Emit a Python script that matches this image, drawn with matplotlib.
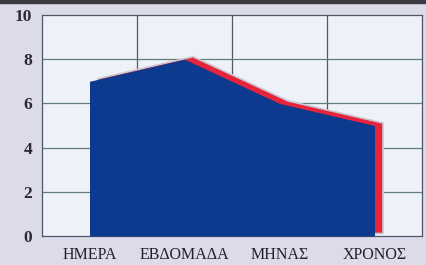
import matplotlib
matplotlib.use('Agg')
import matplotlib.pyplot as plt
import matplotlib.transforms as mtransforms

categories = ['ΗΜΕΡΑ', 'ΕΒΔΟΜΑΔΑ', 'ΜΗΝΑΣ', 'ΧΡΟΝΟΣ']
values = [7, 8, 6, 5]
yticks = [0, 2, 4, 6, 8, 10]

bg = '#dcdbea'
fig = plt.figure(figsize=(4.27, 2.65), dpi=100, facecolor=bg)
ax = fig.add_axes([42/427, 1 - 236/265, 380/427, 221/265])
ax.set_facecolor('#eef1f8')

x = list(range(len(categories)))

# 3D-looking side: red copy shifted right/up, with a pale outline
shift = mtransforms.offset_copy(ax.transData, fig=fig, x=8, y=3, units='dots')
ax.fill_between(x, 0, values, color='#e8243c', edgecolor='#c8c8d0', linewidth=1.2,
                transform=shift, zorder=2)
ax.fill_between(x, 0, values, color='#0c3a8e', linewidth=0, zorder=3)

ax.set_xlim(-0.5, len(categories) - 0.5)
ax.set_ylim(0, 10)
ax.set_yticks(yticks)
ax.set_xticks(x)
ax.set_xticklabels(categories)
for v in [0.5, 1.5, 2.5]:
    ax.axvline(v, color='#505868', linewidth=0.9, zorder=1)
for v in yticks[1:-1]:
    ax.axhline(v, color='#5f7f74', linewidth=0.9, zorder=1)
for s in ax.spines.values():
    s.set_color('#505868')
    s.set_linewidth(0.9)
ax.tick_params(axis='x', length=0, pad=8)
ax.tick_params(axis='y', length=0, pad=7)
for lab in ax.get_xticklabels():
    lab.set_fontfamily('Liberation Serif')
    lab.set_fontsize(11.5)
    lab.set_color('#22222c')
for lab in ax.get_yticklabels():
    lab.set_fontfamily('Liberation Serif')
    lab.set_fontweight('bold')
    lab.set_fontsize(12.5)
    lab.set_color('#2a2a34')

# dark strip along top edge of the picture
fig.patches.append(plt.Rectangle((0, 1 - 3/265), 1, 3/265, transform=fig.transFigure,
                                 color='#3a3a40', zorder=0))

fig.savefig('out.png', dpi=100, facecolor=bg)
